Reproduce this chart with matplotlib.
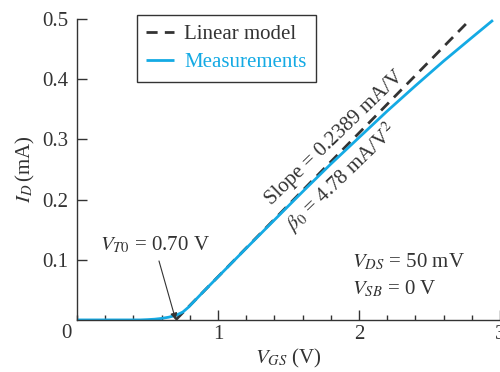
import numpy as np
import matplotlib
matplotlib.use("Agg")
import matplotlib.pyplot as plt
from matplotlib.ticker import MultipleLocator

plt.rcParams['font.family'] = ['Liberation Serif', 'DejaVu Serif']
plt.rcParams['mathtext.fontset'] = 'stix'

# Measured drain current vs gate-source voltage
vgs_meas = [0.0, 0.45, 0.50, 0.55, 0.60, 0.65, 0.70, 0.75, 0.79, 0.90, 1.00,
            1.20, 1.40, 1.60, 1.80, 2.00, 2.20, 2.40, 2.60, 2.80, 2.95]
id_meas = [0.0, 0.0, 0.0005, 0.0012, 0.0025, 0.0045, 0.0075, 0.013, 0.021, 0.0478, 0.0715,
           0.119, 0.166, 0.213, 0.259, 0.303, 0.347, 0.389, 0.430, 0.469, 0.498]

# Linear model parameters
vt0 = 0.70
slope = 0.2389
vgs_lin = [0.70, 2.79]

ink = '#333333'
blue = '#14aae4'

fig = plt.figure(figsize=(5.0, 3.72), dpi=100)
ax = fig.add_axes([0.154, 0.140, 0.846, 0.809])

id_lin = [slope * (v - vt0) for v in vgs_lin]
ax.plot(vgs_lin, id_lin, ls=(0, (4.0, 2.6)), color=ink, lw=2.0, label='Linear model')
ax.plot(vgs_meas, id_meas, color=blue, lw=2.0, label='Measurements', solid_capstyle='butt')

ax.set_xlim(0, 3)
ax.set_ylim(0, 0.5)
ax.spines['top'].set_visible(False)
ax.spines['right'].set_visible(False)
for s in ('left', 'bottom'):
    ax.spines[s].set_color(ink)
    ax.spines[s].set_linewidth(1.0)

ax.set_xticks([1, 2, 3])
ax.set_xticklabels(['1', '2', '3'])
ax.xaxis.set_minor_locator(MultipleLocator(0.2))
ax.set_yticks([0.1, 0.2, 0.3, 0.4, 0.5])
ax.set_yticklabels(['0.1', '0.2', '0.3', '0.4', '0.5'])
ax.tick_params(axis='both', which='major', direction='in', length=7, width=1.0,
               colors=ink, labelsize=15, pad=6)
ax.tick_params(axis='x', which='minor', direction='in', length=3.5, width=1.0, colors=ink)
ax.tick_params(axis='x', which='major', pad=4)
ax.text(-0.04, -0.006, '0', transform=ax.transData, ha='right', va='top',
        fontsize=15, color=ink)

ax.set_xlabel(r'$V_{GS}$ (V)', fontsize=15, color=ink, labelpad=2)
ax.set_ylabel(r'$I_D\,$(mA)', fontsize=15, color=ink, labelpad=4)

leg = ax.legend(loc='upper left', bbox_to_anchor=(0.142, 1.013), borderaxespad=0,
                fontsize=15, frameon=True, fancybox=False, framealpha=1, edgecolor=ink,
                handlelength=1.3, handletextpad=0.5, borderpad=0.45, labelspacing=0.42)
leg.get_frame().set_linewidth(1.0)
leg.get_texts()[0].set_color(ink)
leg.get_texts()[1].set_color(blue)

ax.annotate(r'$V_{T0}$ = 0.70 V', xy=(vt0, 0.0), xytext=(0.16, 0.107),
            fontsize=15, color=ink, ha='left', va='bottom',
            arrowprops=dict(arrowstyle='-|>', color=ink, lw=0.8,
                            shrinkA=2, shrinkB=0, mutation_scale=10))

ax.text(1.83, 0.302, r'Slope = 0.2389 mA/V', rotation=44, rotation_mode='anchor',
        fontsize=15, color=ink, ha='center', va='center', transform=ax.transData)
ax.text(1.875, 0.236, r'$\beta_0$ = 4.78 mA/V$^2$', rotation=44, rotation_mode='anchor',
        fontsize=15, color=ink, ha='center', va='center', transform=ax.transData)

ax.text(1.95, 0.096, r'$V_{DS}$ = 50 mV', fontsize=15, color=ink, ha='left', va='center')
ax.text(1.95, 0.052, r'$V_{SB}$ = 0 V', fontsize=15, color=ink, ha='left', va='center')

fig.savefig('out.png', dpi=100)
